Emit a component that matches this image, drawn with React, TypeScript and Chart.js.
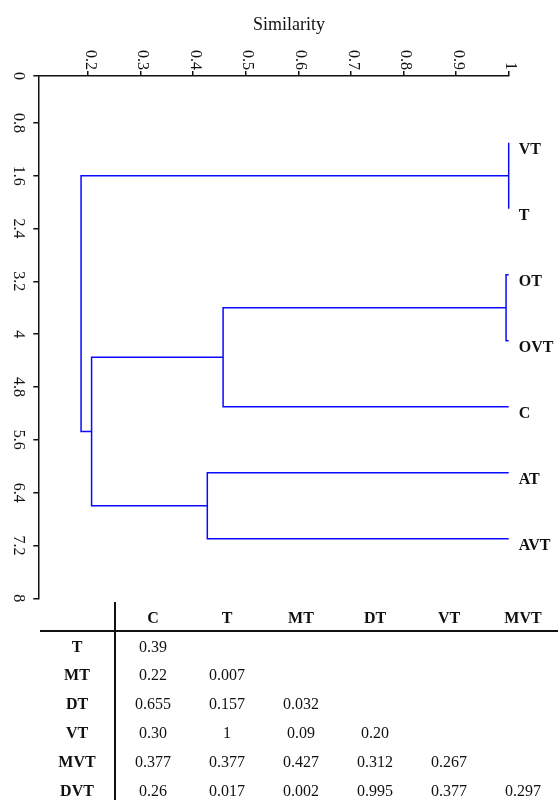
import React, { useEffect, useRef } from "react";
import { Chart, registerables } from "chart.js";

Chart.register(...registerables);

// ---- Dendrogram data ----
const leafNames = ["VT", "T", "OT", "OVT", "C", "AT", "AVT"];
const leafPositions = [1.1, 2.1, 3.1, 4.1, 5.1, 6.1, 7.1];
const leafSimilarity = 1;
// merges: node ids 0..6 are leaves, new nodes are 7, 8, ...
const mergeLeft = [0, 2, 8, 5, 9, 7];
const mergeRight = [1, 3, 4, 6, 10, 11];
const mergeSimilarity = [1.0, 0.995, 0.457, 0.427, 0.207, 0.187];

// ---- Axis tick labels ----
const xTickLabels = ["0.2", "0.3", "0.4", "0.5", "0.6", "0.7", "0.8", "0.9", "1"];
const yTickLabels = ["0", "0.8", "1.6", "2.4", "3.2", "4", "4.8", "5.6", "6.4", "7.2", "8"];
const xTitle = "Similarity";

// ---- Table data ----
const tableColumns = ["C", "T", "MT", "DT", "VT", "MVT"];
const tableRows = ["T", "MT", "DT", "VT", "MVT", "DVT"];
const tableValues = [
  ["0.39"],
  ["0.22", "0.007"],
  ["0.655", "0.157", "0.032"],
  ["0.30", "1", "0.09", "0.20"],
  ["0.377", "0.377", "0.427", "0.312", "0.267"],
  ["0.26", "0.017", "0.002", "0.995", "0.377", "0.297"],
];

const SERIF = "'Liberation Serif', 'Times New Roman', Times, serif";
const LINE_BLUE = "#0a0aff";
const AXIS = "#111111";
const CANVAS_H = 612;

function buildDatasets() {
  const nodes: { x: number; y: number }[] = leafPositions.map((p) => ({ x: leafSimilarity, y: p }));
  const datasets: any[] = [];
  for (let i = 0; i < mergeLeft.length; i++) {
    const a = nodes[mergeLeft[i]];
    const b = nodes[mergeRight[i]];
    const s = mergeSimilarity[i];
    datasets.push({
      data: [
        { x: a.x, y: a.y },
        { x: s, y: a.y },
        { x: s, y: b.y },
        { x: b.x, y: b.y },
      ],
      showLine: true,
      borderColor: LINE_BLUE,
      backgroundColor: LINE_BLUE,
      borderWidth: 1.5,
      pointRadius: 0,
      pointHoverRadius: 0,
      tension: 0,
      fill: false,
      clip: false,
    });
    nodes.push({ x: s, y: (a.y + b.y) / 2 });
  }
  return datasets;
}

const labelPlugin = {
  id: "dendroLabels",
  afterDraw(chart: any) {
    const ctx = chart.ctx;
    const xs = chart.scales.x;
    const ys = chart.scales.y;
    const area = chart.chartArea;
    ctx.save();
    ctx.fillStyle = AXIS;

    // x tick labels (rotated clockwise)
    ctx.font = `16px ${SERIF}`;
    const xTicks = [...xs.ticks].sort((a: any, b: any) => a.value - b.value);
    xTicks.forEach((t: any, i: number) => {
      const px = xs.getPixelForValue(t.value);
      ctx.save();
      ctx.translate(px + 2, area.top - 6);
      ctx.rotate(Math.PI / 2);
      ctx.textAlign = "right";
      ctx.textBaseline = "middle";
      ctx.fillText(xTickLabels[i] ?? String(t.value), 0, 0);
      ctx.restore();
    });

    // y tick labels (rotated clockwise)
    const yTicks = [...ys.ticks].sort((a: any, b: any) => a.value - b.value);
    yTicks.forEach((t: any, i: number) => {
      const py = ys.getPixelForValue(t.value);
      ctx.save();
      ctx.translate(area.left - 20, py);
      ctx.rotate(Math.PI / 2);
      ctx.textAlign = "center";
      ctx.textBaseline = "middle";
      ctx.fillText(yTickLabels[i] ?? String(t.value), 0, 0);
      ctx.restore();
    });

    // leaf labels
    ctx.font = `bold 16px ${SERIF}`;
    ctx.textAlign = "left";
    ctx.textBaseline = "alphabetic";
    leafNames.forEach((name, i) => {
      const py = ys.getPixelForValue(leafPositions[i]);
      ctx.fillText(name, area.right + 10, py + 11.5);
    });

    // axis title
    ctx.font = `18px ${SERIF}`;
    ctx.textAlign = "center";
    ctx.fillText(xTitle, 289, 30);
    ctx.restore();
  },
};

const colX = [153, 227, 301, 375, 449, 523];
const headerY = 617.5;
const rowY0 = 646.5;
const rowStep = 28.9;
const rowLabelX = 77;

function Cell({ text, cx, cy, bold }: { text: string; cx: number; cy: number; bold?: boolean }) {
  return (
    <div
      style={{
        position: "absolute",
        left: cx - 40,
        top: cy - 10,
        width: 80,
        height: 20,
        lineHeight: "20px",
        textAlign: "center",
        fontSize: 16,
        fontWeight: bold ? 700 : 400,
        fontFamily: SERIF,
        color: AXIS,
        whiteSpace: "nowrap",
      }}
    >
      {text}
    </div>
  );
}

export default function App() {
  const ref = useRef<HTMLCanvasElement>(null);

  useEffect(() => {
    if (!ref.current) return;
    const chart = new Chart(ref.current, {
      type: "scatter",
      data: { datasets: buildDatasets() },
      options: {
        animation: false,
        responsive: false,
        devicePixelRatio: 1,
        layout: { padding: { left: 0, top: 0, right: 49.3, bottom: CANVAS_H - 598.3 } },
        plugins: { legend: { display: false }, tooltip: { enabled: false }, title: { display: false } },
        events: [],
        scales: {
          x: {
            type: "linear",
            position: "top",
            min: 0.1057,
            max: 1,
            ticks: { display: false, stepSize: 0.1, includeBounds: false },
            grid: { display: true, drawOnChartArea: false, drawTicks: true, tickLength: 5, color: AXIS, lineWidth: 1.5 },
            border: { display: true, color: AXIS, width: 1.5 },
            afterFit: (s: any) => {
              s.height = 76;
            },
          },
          y: {
            type: "linear",
            reverse: true,
            min: 0.09,
            max: 8,
            ticks: { display: false, stepSize: 0.8, includeBounds: true },
            grid: { display: true, drawOnChartArea: false, drawTicks: true, tickLength: 5, color: AXIS, lineWidth: 1.5 },
            border: { display: true, color: AXIS, width: 1.5 },
            afterFit: (s: any) => {
              s.width = 38.3;
            },
          },
        },
      } as any,
      plugins: [labelPlugin],
    });
    return () => chart.destroy();
  }, []);

  return (
    <div style={{ position: "absolute", left: 0, top: 0, width: 558, height: 800, background: "#fff", overflow: "hidden" }}>
      <canvas
        ref={ref}
        width={558}
        height={CANVAS_H}
        style={{ position: "absolute", left: 0, top: 0, width: 558, height: CANVAS_H }}
      />
      {/* table rules */}
      <div style={{ position: "absolute", left: 113.5, top: 602, width: 2, height: 198, background: AXIS }} />
      <div style={{ position: "absolute", left: 40, top: 630, width: 518, height: 2, background: AXIS }} />
      {tableColumns.map((c, j) => (
        <Cell key={"h" + j} text={c} cx={colX[j]} cy={headerY} bold />
      ))}
      {tableRows.map((r, i) => (
        <React.Fragment key={"r" + i}>
          <Cell text={r} cx={rowLabelX} cy={rowY0 + i * rowStep} bold />
          {tableValues[i].map((v, j) => (
            <Cell key={"v" + i + "-" + j} text={v} cx={colX[j]} cy={rowY0 + i * rowStep} />
          ))}
        </React.Fragment>
      ))}
    </div>
  );
}
